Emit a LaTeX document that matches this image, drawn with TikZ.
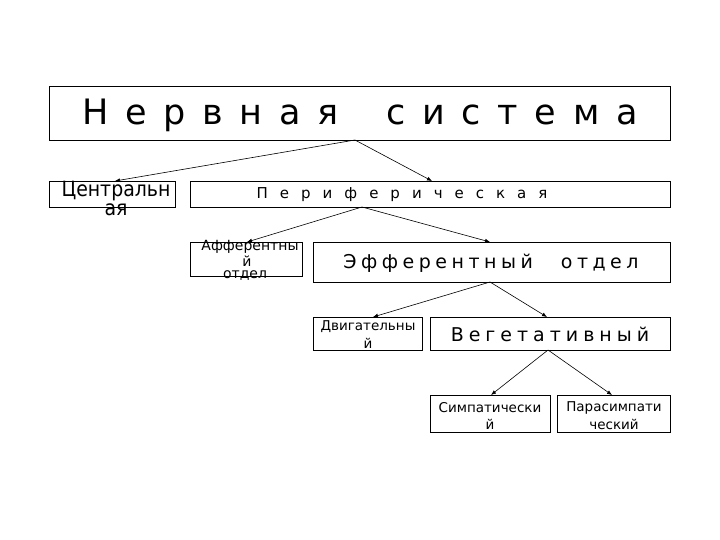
\documentclass[tikz,border=0pt]{standalone}
\usepackage{fontspec}
\setmainfont{DejaVu Sans}
\usetikzlibrary{arrows.meta}
\makeatletter
\newcommand\spc[2]{\kern-#1\relax\@tfor\sp@c:=#2\do{\kern#1\relax\sp@c}}
\makeatother
\newcommand\fs[1]{\fontsize{#1}{#1}\selectfont}
\begin{document}
\begin{tikzpicture}[x=1pt,y=-1pt,
  box/.style={draw,line width=0.8pt,inner sep=0pt,anchor=north west},
  lbl/.style={inner sep=0pt,align=center},
  conn/.style={line width=0.6pt,-{Latex[length=5pt,width=4pt]}}]
\useasboundingbox (0,0) rectangle (720,540);
\fill[white] (0,0) rectangle (720,540);
% boxes
\node[box,minimum width=621pt,minimum height=54pt] (main) at (49,86) {};
\node[box,minimum width=126pt,minimum height=26pt] (central) at (49,181) {};
\node[box,minimum width=480pt,minimum height=26pt] (periph) at (190,181) {};
\node[box,minimum width=112pt,minimum height=34pt] (aff) at (190,242) {};
\node[box,minimum width=357pt,minimum height=40pt] (eff) at (313,242) {};
\node[box,minimum width=109pt,minimum height=33pt] (motor) at (313,317) {};
\node[box,minimum width=240pt,minimum height=33pt] (veg) at (430,317) {};
\node[box,minimum width=120pt,minimum height=37pt] (symp) at (430,395) {};
\node[box,minimum width=113pt,minimum height=37pt] (para) at (557,395) {};
% texts
\node[lbl] (tmain) at (360,115) {\fs{35}\spc{16.7pt}{Нервная}\hspace{48pt}\spc{16.7pt}{система}};
\node[lbl,xscale=0.9] (tc1) at (116,191) {\fs{21}Центральн};
\node[lbl,xscale=0.9] (tc2) at (116,210) {\fs{21}ая};
\node[lbl] (tper) at (402,195) {\fs{15}\spc{12pt}{Периферическая}};
\node[lbl] (ta1) at (250,247) {\fs{14}Афферентны};
\node[lbl] (ta2) at (247,261) {\fs{14}й};
\node[lbl] (ta3) at (245,276) {\fs{14}отдел};
\node[lbl] (teff) at (491,263) {\fs{19}\spc{4.5pt}{Эфферентный}\hspace{28pt}\spc{4.5pt}{отдел}};
\node[lbl] (tm1) at (368,327) {\fs{13.5}Двигательны};
\node[lbl] (tm2) at (368,343) {\fs{13.5}й};
\node[lbl] (tveg) at (550,334) {\fs{19}\spc{5pt}{Вегетативный}};
\node[lbl] (ts1) at (490,408) {\fs{13.5}Симпатически};
\node[lbl] (ts2) at (490,424) {\fs{13.5}й};
\node[lbl] (tp1) at (614,408) {\fs{13.5}Парасимпати};
\node[lbl] (tp2) at (614,424) {\fs{13.5}ческий};
% connector anchors
\coordinate (m0) at (355,140);
\coordinate (p0) at (362,207);
\coordinate (e0) at (490,282);
\coordinate (v0) at (548,350);
\draw[conn] (m0) -- (central.north west -| 115,0);
\draw[conn] (m0) -- (periph.north west -| 432,0);
\draw[conn] (p0) -- (aff.north west -| 247,0);
\draw[conn] (p0) -- (eff.north west -| 490,0);
\draw[conn] (e0) -- (motor.north west -| 373,0);
\draw[conn] (e0) -- (veg.north west -| 547,0);
\draw[conn] (v0) -- (symp.north west -| 491,0);
\draw[conn] (v0) -- (para.north west -| 612,0);
\end{tikzpicture}
\end{document}
